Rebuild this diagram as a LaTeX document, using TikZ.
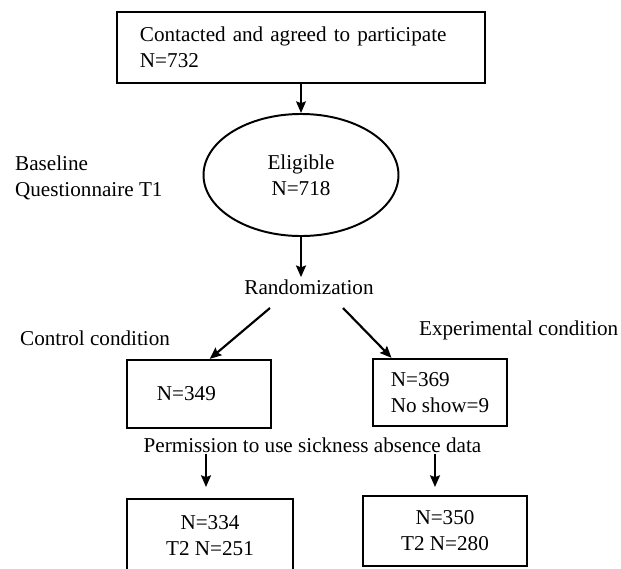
\documentclass[tikz,border=0pt]{standalone}
\usepackage{fontspec}
\setmainfont{Liberation Serif}
\usetikzlibrary{positioning,shapes,arrows.meta}
\tikzset{
        >={Stealth[length=6.5pt,width=5.5pt,inset=1pt]}, % arrow heads
        box/.style={draw, rectangle, line width=1.3pt, inner sep=2pt}, % the count boxes
        oval/.style={draw, ellipse, line width=1.1pt, inner sep=0pt},
        arr/.style={->, line width=1.2pt},
        lbl/.style={inner sep=1pt}, % plain text
}

\begin{document}
\begin{tikzpicture}[x=0.558pt,y=-0.558pt,font=\fontsize{11.8}{14.5}\selectfont]
\clip (0,0) rectangle (621,568);
\node[box, line width=0.9pt, minimum width=205.3pt, minimum height=39.6pt, text width=179.7pt, align=left] (contact) at (301,47.5) {Contacted and agreed to participate\\N=732};
\node[oval, minimum width=108.8pt, minimum height=68.1pt, align=center] (elig) at (301,175) {Eligible\\N=718};
\node[lbl, anchor=west, align=left] (base) at (13,178) {Baseline\\Questionnaire T1};
\node[lbl, anchor=base] (rand) at (309,294) {Randomization};
\node[lbl, anchor=base west] (ctrltxt) at (18,345) {Control condition};
\node[lbl, anchor=base west] (exptxt) at (417,335) {Experimental condition};

\node[box, minimum width=80.4pt, minimum height=37.9pt, text width=46.9pt, align=left] (ctrl) at (199,394) {N=349};
\node[box, minimum width=74.8pt, minimum height=37.4pt, align=left] (exp) at (440,392.5) {N=369\\No show=9};
\node[lbl, anchor=base] (perm) at (312.5,452) {Permission to use sickness absence data};
\node[box, minimum width=92.6pt, minimum height=41.3pt, align=center] (ctrlT) at (210,536) {N=334\\T2 N=251};
\node[box, minimum width=91.5pt, minimum height=39.1pt, align=center] (expT) at (445,531) {N=350\\T2 N=280};

\coordinate (splitL) at (270,308);
\coordinate (splitR) at (343,308);
\coordinate (permL) at (206,487);
\coordinate (permR) at (435,487);

\draw[arr, line width=0.9pt] (contact.south) -- (elig.north);
\draw[arr, line width=1.4pt] (elig.south) -- (elig.south |- rand.north);
\draw[arr] (splitL) -- ([xshift=6pt]ctrl.north);
\draw[arr] (splitR) -- ([xshift=11pt]exp.north west);
\draw[arr] (perm.south -| permL) -- (permL);
\draw[arr] (perm.south -| permR) -- (permR);

\end{tikzpicture}
\end{document}
